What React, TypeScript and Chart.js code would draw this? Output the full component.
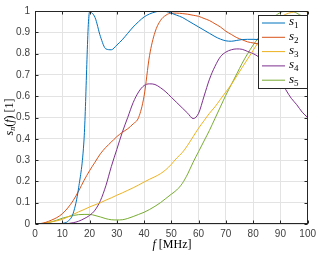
import React, { useEffect, useRef } from "react";
import { Chart, registerables } from "chart.js";
Chart.register(...registerables);

const freq = [0,2,4,6,8,10,12,14,16,18,20,22,24,26,28,30,32,34,36,38,40,42,44,46,48,50,52,54,56,58,60,62,64,66,68,70,72,74,76,78,80,82,84,86,88,90,92,94,96,98,100];

const s1 = [0,0,0,0,0,0.003,0.012,0.05,0.17,0.4,0.995,0.97,0.88,0.822,0.818,0.84,0.865,0.895,0.925,0.95,0.972,0.986,0.995,1.0,0.998,0.99,0.98,0.97,0.955,0.94,0.925,0.91,0.895,0.88,0.868,0.86,0.858,0.862,0.866,0.867,0.867,0.866,0.865,0.863,0.86,0.857,0.853,0.848,0.843,0.838,0.834];
const s2 = [0,0.002,0.008,0.018,0.03,0.048,0.075,0.11,0.155,0.205,0.25,0.29,0.33,0.36,0.385,0.41,0.43,0.447,0.47,0.5,0.6,0.79,0.9,0.955,0.98,0.99,0.99,0.988,0.985,0.98,0.975,0.965,0.955,0.94,0.925,0.905,0.89,0.875,0.865,0.855,0.85,0.845,0.84,0.835,0.828,0.82,0.81,0.8,0.79,0.78,0.77];
const s3 = [0,0.001,0.005,0.01,0.015,0.022,0.033,0.045,0.057,0.068,0.08,0.09,0.1,0.112,0.123,0.135,0.146,0.158,0.17,0.183,0.197,0.21,0.222,0.236,0.255,0.28,0.31,0.335,0.37,0.41,0.45,0.485,0.52,0.55,0.585,0.62,0.655,0.695,0.735,0.775,0.815,0.855,0.89,0.92,0.95,0.97,0.985,0.993,0.998,1.0,0.995];
const s4 = [0,0,0,0,0,0,0.002,0.006,0.013,0.025,0.04,0.065,0.11,0.18,0.27,0.35,0.43,0.5,0.57,0.62,0.65,0.658,0.655,0.64,0.62,0.595,0.57,0.545,0.52,0.495,0.52,0.6,0.68,0.74,0.785,0.807,0.818,0.822,0.82,0.81,0.8,0.785,0.765,0.74,0.71,0.675,0.63,0.59,0.56,0.525,0.5];
const s5 = [0,0.001,0.004,0.01,0.018,0.027,0.034,0.04,0.044,0.045,0.045,0.04,0.033,0.025,0.02,0.019,0.02,0.026,0.035,0.045,0.055,0.068,0.083,0.1,0.12,0.14,0.16,0.19,0.235,0.29,0.34,0.39,0.44,0.495,0.55,0.605,0.655,0.705,0.755,0.8,0.84,0.875,0.91,0.945,0.975,0.993,1.0,1.0,0.99,0.975,0.96];

const seriesValues = [s1, s2, s3, s4, s5];
const seriesSubs = ["1", "2", "3", "4", "5"];
const seriesColors = ["#0072BD", "#D95319", "#EDB120", "#7E2F8E", "#77AC30"];
const xTicks = [0, 10, 20, 30, 40, 50, 60, 70, 80, 90, 100];
const yTicks = [0, 0.1, 0.2, 0.3, 0.4, 0.5, 0.6, 0.7, 0.8, 0.9, 1];

const AXIS = "#262626";
const LABEL = "#404040";
const SERIF = "'Liberation Serif', 'DejaVu Serif', serif";

type Piece = { t: string; italic?: boolean; size: number; dy?: number };

function drawPieces(ctx: CanvasRenderingContext2D, pieces: Piece[], cx: number, cy: number) {
  let total = 0;
  const widths = pieces.map((p) => {
    ctx.font = `${p.italic ? "italic " : ""}${p.size}px ${SERIF}`;
    const w = ctx.measureText(p.t).width;
    total += w;
    return w;
  });
  let x = cx - total / 2;
  ctx.textBaseline = "middle";
  ctx.textAlign = "left";
  pieces.forEach((p, i) => {
    ctx.font = `${p.italic ? "italic " : ""}${p.size}px ${SERIF}`;
    ctx.fillText(p.t, x, cy + (p.dy || 0));
    x += widths[i];
  });
}

const framePlugin = {
  id: "matlabFrame",
  afterDatasetsDraw(chart: any) {
    const ctx: CanvasRenderingContext2D = chart.ctx;
    const { left, right, top, bottom } = chart.chartArea;
    const xs = chart.scales.x;
    const ys = chart.scales.y;
    ctx.save();
    ctx.strokeStyle = AXIS;
    ctx.lineWidth = 1;
    const L = Math.round(left) + 0.5, R = Math.round(right) - 0.5, T = Math.round(top) + 0.5, B = Math.round(bottom) - 0.5;
    ctx.strokeRect(L, T, R - L, B - T);
    ctx.beginPath();
    const tl = 3;
    xTicks.forEach((v) => {
      const px = Math.round(xs.getPixelForValue(v)) + 0.5;
      ctx.moveTo(px, B); ctx.lineTo(px, B - tl);
      ctx.moveTo(px, T); ctx.lineTo(px, T + tl);
    });
    yTicks.forEach((v) => {
      const py = Math.round(ys.getPixelForValue(v)) + 0.5;
      ctx.moveTo(L, py); ctx.lineTo(L + tl, py);
      ctx.moveTo(R, py); ctx.lineTo(R - tl, py);
    });
    ctx.stroke();

    // legend box
    const bx = 258.5, by = 15.5, bw = 49, bh = 73;
    ctx.fillStyle = "#ffffff";
    ctx.fillRect(bx, by, bw, bh);
    ctx.strokeStyle = AXIS;
    ctx.strokeRect(bx, by, bw, bh);
    seriesSubs.forEach((sub, i) => {
      const yy = 23 + i * 14.3;
      ctx.strokeStyle = seriesColors[i];
      ctx.lineWidth = 1;
      ctx.beginPath();
      ctx.moveTo(262, yy);
      ctx.lineTo(285, yy);
      ctx.stroke();
      ctx.fillStyle = "#000000";
      ctx.textBaseline = "middle";
      ctx.textAlign = "left";
      ctx.font = `italic 13px ${SERIF}`;
      ctx.fillText("s", 289, yy - 1);
      const w = ctx.measureText("s").width;
      ctx.font = `9px ${SERIF}`;
      ctx.fillText(sub, 289 + w, yy + 3);
    });

    // axis titles
    ctx.fillStyle = "#000000";
    drawPieces(ctx, [
      { t: "f", italic: true, size: 12 },
      { t: " [MHz]", size: 12 },
    ], 172, 245);
    ctx.save();
    ctx.translate(10, 117);
    ctx.rotate(-Math.PI / 2);
    drawPieces(ctx, [
      { t: "s", italic: true, size: 12 },
      { t: "n", italic: true, size: 8, dy: 3 },
      { t: "(", size: 12 },
      { t: "f", italic: true, size: 12 },
      { t: ")", size: 12 },
      { t: " [1]", size: 12 },
    ], 0, 0);
    ctx.restore();
    ctx.restore();
  },
};

export default function App() {
  const ref = useRef<HTMLCanvasElement | null>(null);
  useEffect(() => {
    document.body.style.margin = "0";
    if (!ref.current) return;
    const chart = new Chart(ref.current, {
      type: "line",
      data: {
        datasets: seriesValues.map((vals, i) => ({
          label: "s" + seriesSubs[i],
          data: freq.map((f, j) => ({ x: f, y: vals[j] })),
          borderColor: seriesColors[i],
          backgroundColor: seriesColors[i],
          borderWidth: 1,
          pointRadius: 0,
          cubicInterpolationMode: "monotone" as const,
          fill: false,
        })),
      },
      options: {
        animation: false,
        responsive: false,
        devicePixelRatio: 1,
        layout: { padding: { top: 6, right: 11, left: 0, bottom: 0 } },
        plugins: { legend: { display: false }, tooltip: { enabled: false } },
        scales: {
          x: {
            type: "linear",
            min: 0,
            max: 100,
            afterBuildTicks: (s: any) => { s.ticks = xTicks.map((v) => ({ value: v })); },
            afterFit: (s: any) => { s.height = 31; },
            ticks: { color: LABEL, font: { size: 10, family: "'Liberation Sans', Arial, sans-serif" }, padding: 4, maxRotation: 0 },
            grid: { color: "#e3e3e3", drawTicks: false, lineWidth: 1 },
            border: { display: false },
          },
          y: {
            type: "linear",
            min: 0,
            max: 1,
            afterBuildTicks: (s: any) => { s.ticks = yTicks.map((v) => ({ value: v })); },
            afterFit: (s: any) => { s.width = 35; },
            ticks: {
              color: LABEL,
              font: { size: 10, family: "'Liberation Sans', Arial, sans-serif" },
              padding: 5,
              callback: (v: any) => String(Number(Number(v).toFixed(1))),
            },
            grid: { color: "#e3e3e3", drawTicks: false, lineWidth: 1 },
            border: { display: false },
          },
        },
      },
      plugins: [framePlugin],
    });
    return () => chart.destroy();
  }, []);
  return <canvas ref={ref} width={320} height={255} style={{ display: "block" }} />;
}
